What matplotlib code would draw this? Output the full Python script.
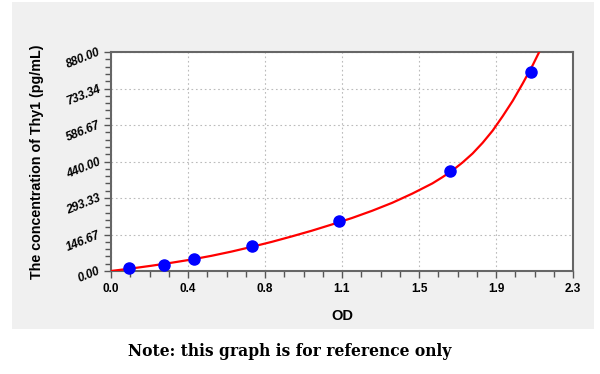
import matplotlib
matplotlib.use('Agg')
import matplotlib.pyplot as plt
import matplotlib.patches as patches
from matplotlib.ticker import AutoMinorLocator

# standards (OD vs concentration)
od = [0.091, 0.265, 0.413, 0.702, 1.134, 1.688, 2.089]
conc = [12.5, 25, 50, 100, 200, 400, 800]

# fitted curve
curve_od = [0.0, 0.1, 0.2, 0.3, 0.4, 0.5, 0.6, 0.7, 0.8, 0.9, 1.0, 1.1, 1.2, 1.3,
            1.4, 1.5, 1.6, 1.65, 1.7, 1.75, 1.8, 1.85, 1.9, 1.95, 2.0, 2.05,
            2.1, 2.15]
curve_conc = [0, 10, 21, 33, 46, 61, 78, 97, 117, 139, 162, 187, 213, 242,
              274, 311, 352, 377, 404, 436, 472, 515, 564, 622, 684, 754,
              828, 910]

x_ticks = [0.0, 2.3 / 6, 2.3 * 2 / 6, 2.3 * 3 / 6, 2.3 * 4 / 6, 2.3 * 5 / 6, 2.3]
x_labels = ['0.0', '0.4', '0.8', '1.1', '1.5', '1.9', '2.3']
y_ticks = [0, 880 / 6, 880 * 2 / 6, 880 * 3 / 6, 880 * 4 / 6, 880 * 5 / 6, 880]
y_labels = ['0.00', '146.67', '293.33', '440.00', '586.67', '733.34', '880.00']

plt.rcParams['font.family'] = ['Liberation Sans', 'DejaVu Sans']

fig = plt.figure(figsize=(6, 3.74), dpi=100)
fig.patch.set_facecolor('white')

# gray panel behind the chart
panel = patches.Rectangle((12 / 600, 1 - 329 / 374), 582 / 600, 327 / 374,
                          transform=fig.transFigure, facecolor='#f0f0f0',
                          edgecolor='none', zorder=-5)
fig.patches.append(panel)

ax = fig.add_axes([111 / 600, 1 - 271 / 374, 462 / 600, 219 / 374])
ax.set_zorder(1)
ax.set_facecolor('white')

ax.plot(curve_od, curve_conc, color='red', lw=1.6, zorder=3, clip_on=True,
        solid_joinstyle='round')
ax.plot(od, conc, 'o', color='blue', ms=8, zorder=4, clip_on=False)

ax.set_xlim(0, 2.3)
ax.set_ylim(0, 880)
ax.set_xticks(x_ticks)
ax.set_xticklabels(x_labels, fontweight='bold', fontsize=8.5)
ax.set_yticks(y_ticks)
ax.set_yticklabels(y_labels, fontweight='bold', fontstyle='italic', fontsize=8.5,
                   rotation=22, rotation_mode='anchor', ha='right', va='center')
ax.xaxis.set_minor_locator(AutoMinorLocator(4))
ax.yaxis.set_minor_locator(AutoMinorLocator(5))
ax.tick_params(which='major', direction='out', length=5, width=1, color='#555555')
ax.tick_params(which='minor', direction='out', length=4, width=1, color='#555555')
ax.tick_params(axis='x', pad=4)
ax.tick_params(axis='y', pad=3)

for s in ax.spines.values():
    s.set_color('#666666')
    s.set_linewidth(1.5)

ax.grid(which='major', color='#bbbbbb', linestyle=(0, (1.5, 2.5)), linewidth=0.8)

ax.set_xlabel('OD', fontweight='bold', fontsize=10.5, labelpad=10)
ax.set_ylabel('The concentration of Thy1 (pg/mL)', fontweight='bold', fontsize=10.3,
              labelpad=15)

fig.text(290 / 600, 1 - 352 / 374, 'Note: this graph is for reference only',
         family=['DejaVu Serif'], fontweight='bold',
         fontsize=11.2, ha='center', va='center')

fig.savefig('out.png', dpi=100)
